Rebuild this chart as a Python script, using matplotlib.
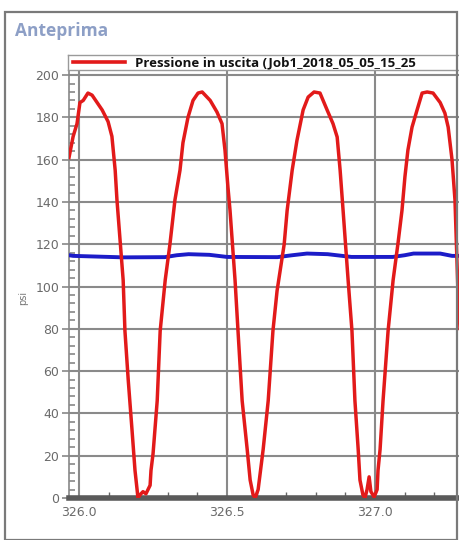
"""
Preview chart: outlet pressure vs time (psi).
"""

import matplotlib

matplotlib.use("Agg")
import matplotlib.pyplot as plt
from matplotlib.patches import Rectangle
from matplotlib.ticker import MultipleLocator

# Red trace: outlet pressure (time, psi)
RED_T = [
    325.966, 325.980, 325.993, 326.003, 326.014, 326.030, 326.044, 326.061,
    326.078, 326.098, 326.111, 326.122, 326.128, 326.149, 326.155, 326.166,
    326.179, 326.189, 326.196, 326.199, 326.206, 326.216, 326.226, 326.233,
    326.240, 326.243, 326.250, 326.264, 326.274, 326.291, 326.307, 326.324,
    326.341, 326.351, 326.368, 326.385, 326.402, 326.416, 326.443, 326.466,
    326.483, 326.493, 326.503, 326.510, 326.527, 326.537, 326.551, 326.568,
    326.578, 326.588, 326.595, 326.605, 326.622, 326.639, 326.655, 326.669,
    326.693, 326.703, 326.720, 326.736, 326.757, 326.774, 326.794, 326.814,
    326.838, 326.858, 326.872, 326.882, 326.892, 326.909, 326.922, 326.932,
    326.943, 326.949, 326.959, 326.966, 326.973, 326.980, 326.986, 326.997,
    327.007, 327.010, 327.017, 327.027, 327.044, 327.061, 327.078, 327.091,
    327.101, 327.111, 327.125, 327.142, 327.159, 327.176, 327.196, 327.220,
    327.236, 327.247, 327.260, 327.270, 327.280, 327.291,
]
RED_PSI = [
    161, 171, 177, 187, 188, 191.5, 190.5, 187,
    183.5, 178, 171, 155, 141, 103, 79, 56,
    32, 13, 4, 0, 1.5, 3, 2, 4,
    6, 13, 21, 46, 79, 103, 120, 141,
    155, 168, 180, 188, 191.5, 192, 188, 182.5,
    177, 164.5, 147, 136, 103, 79, 46, 23,
    8.5, 1.5, 0, 4, 23, 46, 79, 98,
    120, 136, 155, 169, 183.5, 189.6, 192, 191.5,
    183.5, 177, 170.7, 155, 136, 103, 79, 46,
    23, 8.5, 1.5, 0, 4, 10, 3, 0.5,
    4, 13, 23, 46, 79, 103, 121, 136,
    152, 164.5, 175.4, 183.5, 191.5, 192, 191.5, 187,
    182, 175.4, 160, 141, 98, 70,
]

# Blue trace: nearly flat second pressure
BLUE_T = [
    325.966, 325.980, 326.150, 326.290, 326.330, 326.370, 326.440, 326.500,
    326.670, 326.720, 326.770, 326.840, 326.920, 327.060, 327.100, 327.130,
    327.220, 327.260, 327.290,
]
BLUE_PSI = [
    114.8, 114.5, 113.8, 113.9, 114.8, 115.3, 115.0, 114.0,
    113.9, 114.8, 115.6, 115.3, 114.0, 114.0, 114.8, 115.6,
    115.6, 114.5, 114.5,
]

Y_TICKS = [0, 20, 40, 60, 80, 100, 120, 140, 160, 180, 200]
X_TICKS = [326.0, 326.5, 327.0]
X_TICK_LABELS = ["326.0", "326.5", "327.0"]
LEGEND_LABEL = "Pressione in uscita (Job1_2018_05_05_15_25"

W, H = 460, 540
fig = plt.figure(figsize=(W / 100, H / 100), dpi=100)

# outer panel frame and header
fig.patches.append(
    Rectangle((5 / W, 0), 452 / W, 1 - 12 / H, transform=fig.transFigure,
              fill=False, edgecolor="#7a7a7a", linewidth=1.6)
)
fig.text(15 / W, 1 - 31 / H, "Anteprima", color="#8d9fc6", fontsize=12.5,
         fontweight="bold", family="Open Sans", va="center", ha="left")

ax = fig.add_axes([69 / W, 42 / H, 1 - 69 / W, 428 / H])
ax.set_xlim(325.966, 327.287)
ax.set_ylim(0, 202.4)

# gridlines
for y in Y_TICKS:
    ax.axhline(y, color="#8a8a8a", linewidth=1.5, zorder=1)
for x in X_TICKS:
    ax.axvline(x, color="#8a8a8a", linewidth=1.5, zorder=1)

ax.plot(BLUE_T, BLUE_PSI, color="#1c1cc8", linewidth=2.8, zorder=3)
ax.plot(RED_T, RED_PSI, color="#e21a1a", linewidth=2.5, zorder=4,
        solid_joinstyle="round")

ax.set_yticks(Y_TICKS)
ax.yaxis.set_minor_locator(MultipleLocator(4))
ax.set_xticks(X_TICKS)
ax.set_xticklabels(X_TICK_LABELS)
ax.xaxis.set_minor_locator(MultipleLocator(0.1))

ax.tick_params(axis="y", which="major", direction="out", length=5,
               width=1.2, color="#888888", labelcolor="#6a6a6a",
               labelsize=9, pad=2)
ax.tick_params(axis="y", which="minor", direction="in", length=4,
               width=1.2, color="#888888")
ax.tick_params(axis="x", which="major", direction="in", length=0,
               labelcolor="#6a6a6a", labelsize=9, pad=6)
ax.tick_params(axis="x", which="minor", direction="in", length=4,
               width=1.0, color="#666666")

for side in ["top", "right"]:
    ax.spines[side].set_visible(False)
ax.spines["left"].set_color("#888888")
ax.spines["left"].set_linewidth(1.2)
ax.spines["bottom"].set_color("#5a5a5a")
ax.spines["bottom"].set_linewidth(4)

ax.set_ylabel("psi", color="#777777", fontsize=7)
ax.yaxis.set_label_coords((28 - 69) / (W - 69), (498 - 298) / 428)

# legend strip above the axes
leg_ax = fig.add_axes([68 / W, 470 / H, 1 - 68 / W, 15 / H])
leg_ax.set_xlim(0, 1)
leg_ax.set_ylim(0, 1)
leg_ax.set_xticks([])
leg_ax.set_yticks([])
for s in leg_ax.spines.values():
    s.set_color("#9a9a9a")
    s.set_linewidth(1.0)
leg_ax.plot([5 / 392, 57 / 392], [0.55, 0.55], color="#e21a1a", linewidth=2.6)
leg_ax.text(67 / 392, 0.5, LEGEND_LABEL, fontsize=9.5, family="Open Sans",
            fontweight="bold", va="center", ha="left", color="#111111")

fig.savefig("out.png", dpi=100)
